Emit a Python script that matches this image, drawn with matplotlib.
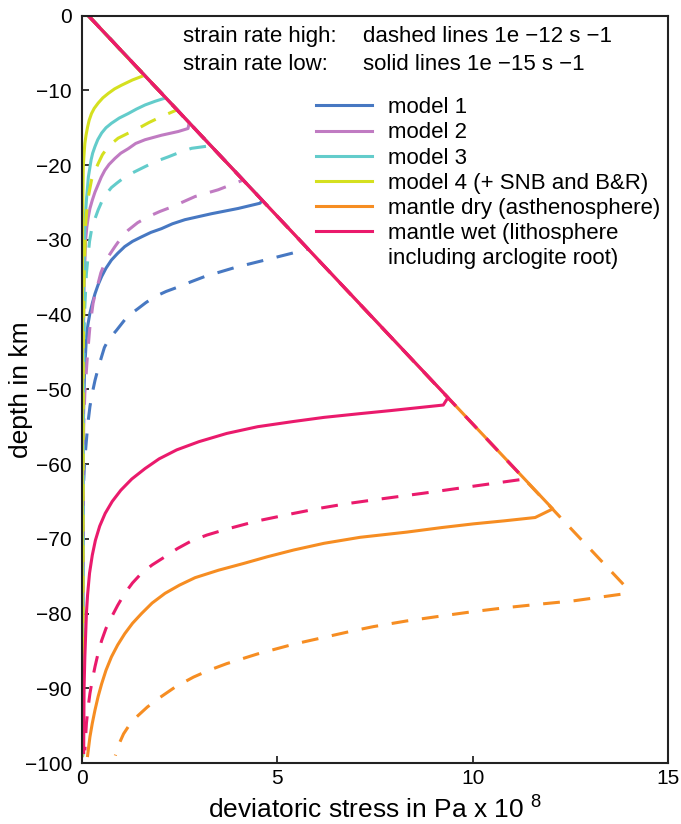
import matplotlib
matplotlib.use("Agg")
import matplotlib.pyplot as plt
from matplotlib.lines import Line2D

plt.rcParams["font.family"] = ["Liberation Sans", "DejaVu Sans"]
plt.rcParams["mathtext.fontset"] = "custom"
plt.rcParams["mathtext.rm"] = "Liberation Sans"
plt.rcParams["axes.unicode_minus"] = True

# ---- yield-strength envelopes: stress (x 1e8 Pa) vs depth (km) ----
# every curve starts on the frictional (brittle) line at the surface
m1_low_stress = [0.17, 4.62, 4.56, 4.0, 3.32, 2.64, 2.32, 2.04, 1.77, 1.53, 1.3, 1.1, 0.92, 0.76, 0.62,
                 0.51, 0.42, 0.34, 0.27, 0.21, 0.16, 0.12, 0.07, 0.04, 0.02]
m1_low_depth = [0, -24.7, -25.1, -25.8, -26.5, -27.3, -27.85, -28.5, -29.0, -29.6, -30.2, -30.9, -31.8, -32.7, -33.8,
                -34.9, -36.0, -37.2, -38.5, -39.8, -41.3, -43, -48, -55, -99]
m1_high_stress = [0.17, 5.79, 5.37, 4.69, 3.92, 3.15, 2.8, 2.47, 2.16, 1.87, 1.64, 1.44, 1.26, 1.1, 0.89, 0.68,
                  0.58, 0.51, 0.42, 0.34, 0.27, 0.21, 0.16, 0.12, 0.07, 0.04, 0.02, 0.02]
m1_high_depth = [0, -31.2, -31.8, -32.7, -33.7, -34.9, -35.6, -36.3, -36.9, -37.6, -38.4, -39.2, -39.9, -40.7, -42.1, -43.4,
                 -44.4, -45.6, -47.2, -48.8, -50.5, -52.3, -54.5, -56.8, -60, -63.5, -80, -99]

m2_low_stress = [0.17, 2.75, 2.72, 2.47, 2.04, 1.62, 1.38, 1.19, 1.0, 0.85, 0.70, 0.59, 0.50, 0.42, 0.34,
                 0.27, 0.21, 0.17, 0.13, 0.1, 0.06, 0.04, 0.02]
m2_low_depth = [0, -14.3, -15.1, -15.5, -16.0, -16.6, -17.1, -17.8, -18.4, -19.1, -19.9, -20.7, -21.6, -22.6, -23.6,
                -24.7, -25.8, -26.9, -28.3, -30, -36, -45, -99]
m2_high_stress = [0.17, 4.13, 3.49, 2.9, 2.6, 2.3, 2.0, 1.7, 1.43, 1.19, 1.0, 0.85, 0.71, 0.59, 0.49, 0.42,
                  0.35, 0.29, 0.21, 0.15, 0.08, 0.05, 0.03, 0.02]
m2_high_depth = [0, -22.0, -23.3, -24.2, -24.9, -25.6, -26.2, -26.9, -27.7, -28.7, -29.8, -30.9, -32.0, -33.1, -34.4, -35.8,
                 -37.1, -38.5, -41.6, -45.2, -50.5, -55, -70, -99]

m3_low_stress = [0.17, 2.15, 1.88, 1.62, 1.40, 1.19, 0.96, 0.76, 0.62, 0.51, 0.41, 0.34, 0.28, 0.24, 0.17,
                 0.12, 0.09, 0.07, 0.04, 0.02, 0.02]
m3_low_depth = [0, -11.0, -11.45, -11.95, -12.5, -13.1, -13.7, -14.4, -15.0, -15.7, -16.6, -17.5, -18.4, -19.3, -21.6,
                -24.7, -27, -30, -40, -60, -99]
m3_high_stress = [0.17, 3.30, 2.81, 2.50, 2.21, 1.90, 1.62, 1.35, 1.1, 0.90, 0.76, 0.62, 0.52, 0.42, 0.33,
                  0.25, 0.2, 0.17, 0.12, 0.07, 0.04, 0.03]
m3_high_depth = [0, -17.4, -17.75, -18.3, -18.9, -19.5, -20.2, -20.9, -21.6, -22.4, -23.0, -23.9, -24.8, -26.0, -27.3,
                 -28.7, -30.2, -31.8, -34.5, -40, -50, -99]

m4_low_stress = [0.17, 1.60, 1.30, 1.02, 0.84, 0.68, 0.54, 0.42, 0.32, 0.25, 0.19, 0.15, 0.11, 0.08, 0.06,
                 0.04, 0.03, 0.02, 0.01]
m4_low_depth = [0, -8.0, -8.6, -9.3, -9.8, -10.4, -11.0, -11.7, -12.4, -13.1, -14.0, -14.9, -16.0, -17.1, -18.5,
                -20.2, -24, -30, -99]
m4_high_stress = [0.17, 2.44, 2.04, 1.72, 1.44, 1.16, 0.93, 0.68, 0.53, 0.42, 0.32, 0.25, 0.17, 0.13, 0.1,
                  0.06, 0.04, 0.03]
m4_high_depth = [0, -12.6, -13.5, -14.3, -15.1, -15.8, -16.4, -17.5, -18.6, -19.8, -21, -22, -24.2, -26, -28,
                 -35, -45, -99]

dry_low_stress = [0.17, 12.05, 11.6, 10.8, 10.02, 9.2, 8.32, 7.12, 6.2, 5.42, 4.75, 4.14, 3.5, 2.9, 2.5,
                  2.13, 1.8, 1.53, 1.3, 1.1, 0.92, 0.76, 0.62, 0.51, 0.42, 0.34, 0.27, 0.21, 0.15]
dry_low_depth = [0, -66.0, -67.15, -67.6, -68.0, -68.5, -69.1, -69.8, -70.6, -71.5, -72.4, -73.3, -74.2, -75.2, -76.2,
                 -77.3, -78.6, -80.0, -81.3, -82.7, -84.2, -85.8, -87.6, -89.4, -91.1, -92.9, -94.7, -96.5, -99.0]
dry_high_stress = [0.17, 13.93, 13.82, 12.58, 11.7, 10.87, 10.0, 9.17, 8.3, 7.46, 6.95, 6.1, 5.42, 4.5, 3.71,
                   3.25, 2.86, 2.4, 2.01, 1.68, 1.41, 1.22, 1.07, 0.95, 0.86]
dry_high_depth = [0, -76.5, -77.4, -78.3, -78.75, -79.2, -79.75, -80.35, -81.0, -81.75, -82.3, -83.3, -84.1, -85.4, -86.7,
                  -87.6, -88.5, -89.8, -91.2, -92.5, -93.8, -94.9, -96.1, -97.5, -99.0]

wet_low_stress = [0.17, 9.37, 9.25, 7.89, 7.12, 6.2, 5.42, 4.5, 3.71, 3.0, 2.43, 1.98, 1.62, 1.28, 1.0,
                  0.78, 0.6, 0.46, 0.35, 0.27, 0.2, 0.15, 0.12, 0.08, 0.06, 0.05]
wet_low_depth = [0, -51.1, -52.1, -52.85, -53.25, -53.75, -54.3, -55.0, -55.9, -57.0, -58.1, -59.3, -60.6, -62.0, -63.5,
                 -65.0, -66.6, -68.3, -70.2, -72.2, -74.6, -77.5, -80, -85.8, -90, -98.6]
wet_high_stress = [0.17, 11.33, 10.02, 8.74, 7.46, 6.78, 6.1, 5.42, 4.5, 3.71, 3.2, 2.8, 2.45, 2.13, 1.8,
                   1.53, 1.3, 1.1, 0.92, 0.76, 0.62, 0.51, 0.42, 0.34, 0.27, 0.21, 0.16, 0.12, 0.08]
wet_high_depth = [0, -62.0, -62.96, -63.9, -64.8, -65.3, -65.9, -66.6, -67.6, -68.7, -69.5, -70.3, -71.3, -72.4, -73.5,
                  -74.6, -75.9, -77.3, -78.9, -80.5, -82.0, -83.6, -85.3, -87.1, -88.9, -90.7, -92.7, -94.7, -98.3]

labels = ["model 1", "model 2", "model 3", "model 4 (+ SNB and B&R)",
          "mantle dry (asthenosphere)", "mantle wet (lithosphere"]
label_cont = "including arclogite root)"
colors = ["#4778c2", "#c07bc2", "#63cccb", "#d5e01f", "#f68d22", "#ea1a6c"]

series = [
    (m1_low_stress, m1_low_depth, m1_high_stress, m1_high_depth),
    (m2_low_stress, m2_low_depth, m2_high_stress, m2_high_depth),
    (m3_low_stress, m3_low_depth, m3_high_stress, m3_high_depth),
    (m4_low_stress, m4_low_depth, m4_high_stress, m4_high_depth),
    (dry_low_stress, dry_low_depth, dry_high_stress, dry_high_depth),
    (wet_low_stress, wet_low_depth, wet_high_stress, wet_high_depth),
]

fig = plt.figure(figsize=(6.81, 8.24), dpi=100)
ax = fig.add_axes([0.12, 0.074, 0.861, 0.907])

lw = 2.2
for (ls_x, ls_y, hs_x, hs_y), c in zip(series, colors):
    ax.plot(ls_x, ls_y, color=c, lw=lw, solid_joinstyle="round")
    ax.plot(hs_x, hs_y, color=c, lw=lw, linestyle=(0, (5.5, 4.5)), dash_capstyle="butt")

ax.set_xlim(0, 15)
ax.set_ylim(-100, 0)
ax.set_xticks([0, 5, 10, 15])
ax.set_yticks(range(-100, 1, 10))
ax.tick_params(direction="in", length=5, width=1.1, labelsize=15,
               top=False, right=False)
ax.tick_params(axis="x", pad=4)
ax.tick_params(axis="y", pad=7)
for s in ax.spines.values():
    s.set_linewidth(1.5)
    s.set_color("#222222")

ax.set_xlabel("deviatoric stress in Pa x 10 $^{8}$", fontsize=19, labelpad=5)
ax.set_ylabel("depth in km", fontsize=19)
ax.yaxis.set_label_coords(-0.083, 0.5)

ax.text(0.173, 0.9715, "strain rate high:", transform=ax.transAxes, fontsize=16, va="center")
ax.text(0.48, 0.9715, "dashed lines 1e \u221212 s \u22121", transform=ax.transAxes, fontsize=16, va="center")
ax.text(0.173, 0.934, "strain rate low:", transform=ax.transAxes, fontsize=16, va="center")
ax.text(0.48, 0.934, "solid lines 1e \u221215 s \u22121", transform=ax.transAxes, fontsize=16, va="center")

handles = [Line2D([], [], color=c, lw=lw) for c in colors]
handles.append(Line2D([], [], color="none", lw=0))
leg = ax.legend(handles, labels + [label_cont], loc="upper left",
                bbox_to_anchor=(0.40, 0.891), frameon=False, fontsize=16,
                borderpad=0, borderaxespad=0, handlelength=2.5,
                handletextpad=0.75, labelspacing=0.19)

fig.savefig("out.png", dpi=100)
